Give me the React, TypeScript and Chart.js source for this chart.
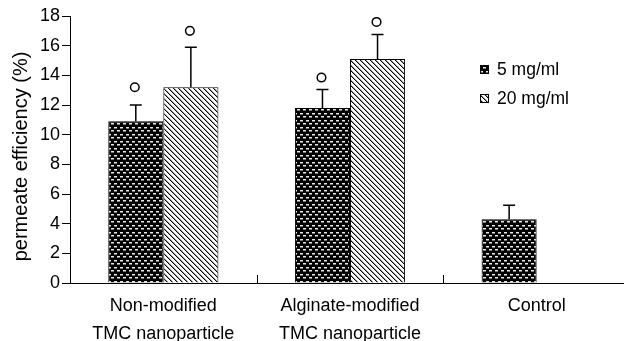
import React, { useEffect, useRef } from "react";
import { Chart, registerables } from "chart.js";

Chart.register(...registerables);

// ---- data ----
const categories: (string | string[])[] = [
  ["Non-modified", "TMC nanoparticle"],
  ["Alginate-modified", "TMC nanoparticle"],
  "Control",
];
const seriesLabels = ["5 mg/ml", "20 mg/ml"];
const means5: (number | null)[] = [10.9, 11.8, 4.3];
const means20: (number | null)[] = [13.2, 15.1, null];
const errors5: (number | null)[] = [1.1, 1.25, 0.95];
const errors20: (number | null)[] = [2.7, 1.65, null];
const markers5: (number | null)[] = [13.2, 13.85, null];
const markers20: (number | null)[] = [17.0, 17.6, null];
const yMin = 0;
const yMax = 18;
const yStep = 2;
const yTitle = "permeate efficiency (%)";

const FONT = "'Liberation Sans', Arial, Helvetica, sans-serif";

function makeDotPattern(ctx: CanvasRenderingContext2D): CanvasPattern | string {
  const c = document.createElement("canvas");
  c.width = 6;
  c.height = 7;
  const g = c.getContext("2d")!;
  g.fillStyle = "#000";
  g.fillRect(0, 0, 6, 7);
  g.fillStyle = "#e8e8e8";
  g.fillRect(0, 1, 3, 1);
  g.fillRect(3, 4, 3, 1);
  g.fillStyle = "#777";
  g.fillRect(0, 2, 3, 1);
  g.fillRect(3, 5, 3, 1);
  return ctx.createPattern(c, "repeat") || "#111";
}

function makeHatchPattern(ctx: CanvasRenderingContext2D): CanvasPattern | string {
  const n = 5;
  const c = document.createElement("canvas");
  c.width = n;
  c.height = n;
  const g = c.getContext("2d")!;
  g.fillStyle = "#fff";
  g.fillRect(0, 0, n, n);
  for (let y = 0; y < n; y++) {
    g.fillStyle = "#000";
    g.fillRect(y, y, 1, 1);
    g.fillStyle = "#999";
    g.fillRect((y + 1) % n, y, 1, 1);
  }
  return ctx.createPattern(c, "repeat") || "#888";
}

export default function App() {
  const ref = useRef<HTMLCanvasElement | null>(null);

  useEffect(() => {
    const canvas = ref.current!;
    const ctx = canvas.getContext("2d")!;
    const dot = makeDotPattern(ctx);
    const hatch = makeHatchPattern(ctx);
    const fills = [dot, hatch];
    const means = [means5, means20];
    const errs = [errors5, errors20];
    const marks = [markers5, markers20];

    const overlay = {
      id: "overlay",
      afterDatasetsDraw(chart: any) {
        const c = chart.ctx as CanvasRenderingContext2D;
        const ys = chart.scales.y;
        const xs = chart.scales.x;
        const area = chart.chartArea;
        c.save();
        c.strokeStyle = "#000";
        c.lineWidth = 1.5;
        for (let d = 0; d < 2; d++) {
          const meta = chart.getDatasetMeta(d);
          meta.data.forEach((bar: any, i: number) => {
            const m = means[d][i];
            if (m == null) return;
            const e = errs[d][i];
            if (e != null) {
              const top = ys.getPixelForValue(m + e);
              const base = ys.getPixelForValue(m);
              c.beginPath();
              c.moveTo(bar.x, base);
              c.lineTo(bar.x, top);
              c.moveTo(bar.x - 6, top);
              c.lineTo(bar.x + 6, top);
              c.stroke();
            }
            const mk = marks[d][i];
            if (mk != null) {
              c.beginPath();
              c.arc(bar.x - 1, ys.getPixelForValue(mk), 4.3, 0, Math.PI * 2);
              c.stroke();
            }
          });
        }
        // inward x ticks between categories
        c.lineWidth = 1;
        for (let i = 1; i <= categories.length; i++) {
          const px = Math.round((xs.getPixelForValue(i - 1) + xs.getPixelForValue(i)) / 2) + 0.5;
          c.beginPath();
          c.moveTo(px, area.bottom);
          c.lineTo(px, area.bottom - 8);
          c.stroke();
        }
        c.restore();
      },
      afterDraw(chart: any) {
        const c = chart.ctx as CanvasRenderingContext2D;
        const area = chart.chartArea;
        c.save();
        // y title
        c.fillStyle = "#000";
        c.font = `20px ${FONT}`;
        c.textAlign = "center";
        c.textBaseline = "middle";
        c.translate(21, (area.top + area.bottom) / 2 + 7);
        c.rotate(-Math.PI / 2);
        c.fillText(yTitle, 0, 0);
        c.restore();
        // legend
        c.save();
        const lx = 480;
        const ly = [65, 94];
        c.font = `17.5px ${FONT}`;
        c.textAlign = "left";
        c.textBaseline = "middle";
        seriesLabels.forEach((lab, i) => {
          c.fillStyle = fills[i] as any;
          c.fillRect(lx, ly[i], 9, 9);
          c.strokeStyle = "#000";
          c.lineWidth = 1;
          c.strokeRect(lx + 0.5, ly[i] + 0.5, 8, 8);
          c.fillStyle = "#000";
          c.fillText(lab, lx + 17, ly[i] + 5);
        });
        c.restore();
      },
    };

    const chart = new Chart(canvas, {
      type: "bar",
      data: {
        labels: categories as any,
        datasets: [
          {
            label: seriesLabels[0],
            data: means5 as any,
            backgroundColor: dot as any,
            borderColor: "#000",
            borderWidth: 1,
            barPercentage: 1,
            categoryPercentage: 0.59,
          },
          {
            label: seriesLabels[1],
            data: means20 as any,
            backgroundColor: hatch as any,
            borderColor: "#000",
            borderWidth: 1,
            barPercentage: 1,
            categoryPercentage: 0.59,
          },
        ],
      },
      options: {
        animation: false,
        responsive: false,
        maintainAspectRatio: false,
        layout: { padding: { top: 16, right: 2, left: 0, bottom: 0 } },
        plugins: {
          legend: { display: false },
          tooltip: { enabled: false },
        },
        scales: {
          x: {
            type: "category",
            offset: true,
            grid: { display: false, drawTicks: false },
            border: { display: true, color: "#000", width: 1 },
            ticks: {
              color: "#000",
              font: { family: FONT, size: 18, lineHeight: 1.55 },
              padding: 9,
              maxRotation: 0,
              autoSkip: false,
            },
            afterFit: (s: any) => {
              s.height = 58;
            },
          },
          y: {
            min: yMin,
            max: yMax,
            ticks: {
              stepSize: yStep,
              color: "#000",
              font: { family: FONT, size: 18 },
              padding: 2,
            },
            grid: {
              display: true,
              drawOnChartArea: false,
              drawTicks: true,
              tickLength: 8,
              color: "#000",
            },
            border: { display: true, color: "#000", width: 1 },
            afterFit: (s: any) => {
              s.width = 70;
            },
          },
        },
      },
      plugins: [overlay],
    });
    return () => chart.destroy();
  }, []);

  return (
    <div
      style={{
        position: "fixed",
        left: 0,
        top: 0,
        width: 624,
        height: 341,
        overflow: "hidden",
        background: "#fff",
      }}
    >
      <canvas ref={ref} width={632} height={341} style={{ width: 632, height: 341, display: "block" }} />
    </div>
  );
}
